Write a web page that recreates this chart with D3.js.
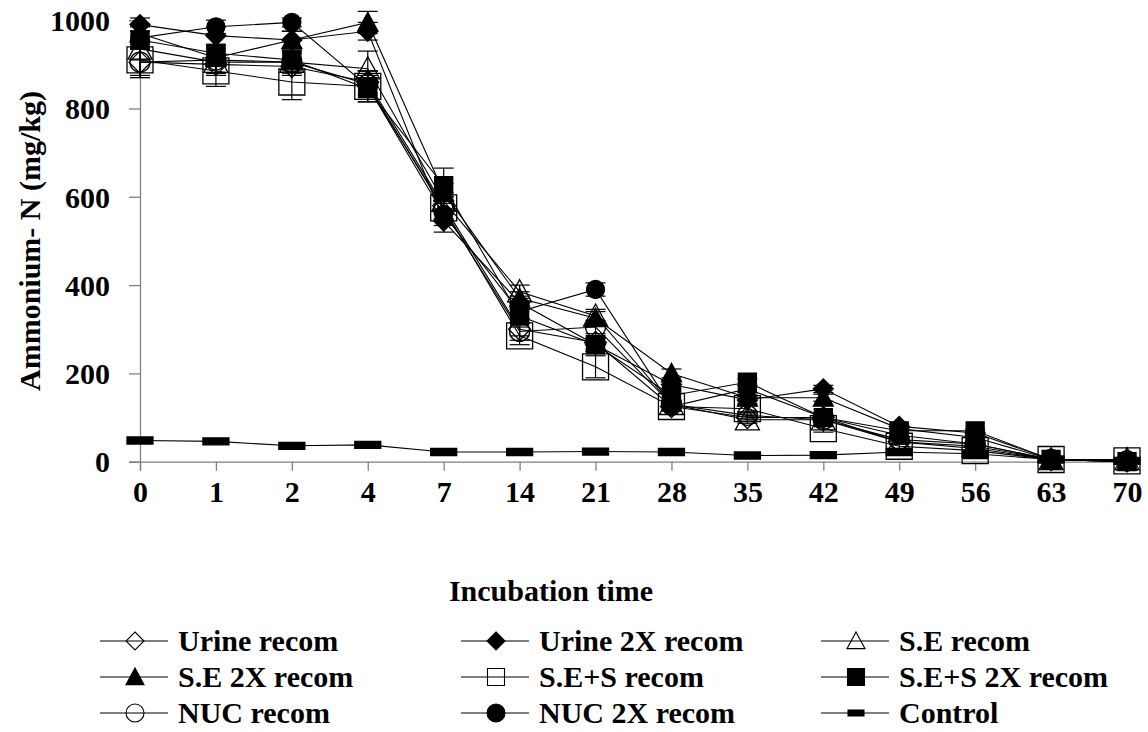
<!DOCTYPE html>
<html><head><meta charset="utf-8"><script src="https://cdn.jsdelivr.net/npm/d3@7"></script></head>
<body style="margin:0">
<svg id="chart" width="1148" height="732"></svg>
<script>
// Sampling days (categorical axis)
const days = ["0", "1", "2", "4", "7", "14", "21", "28", "35", "42", "49", "56", "63", "70"];
const yTicks = [0, 200, 400, 600, 800, 1000];

// Ammonium-N (mg/kg) per treatment
const urineRecom    = [905, 900, 895, 860, 580, 300, 270, 125, 100, 100, 45, 35, 5, 2];
const urine2xRecom  = [990, 965, 955, 975, 545, 360, 265, 175, 140, 165, 80, 65, 5, 0];
const seRecom       = [935, 905, 905, 890, 590, 385, 330, 130, 95, 95, 45, 30, 5, 5];
const se2xRecom     = [970, 915, 955, 995, 610, 370, 325, 200, 145, 145, 75, 55, 5, 0];
const sesRecom      = [910, 885, 860, 850, 575, 285, 215, 125, 120, 75, 35, 25, 5, 2];
const ses2xRecom    = [955, 925, 910, 845, 625, 330, 265, 150, 180, 100, 70, 70, 5, 0];
const nucRecom      = [905, 910, 905, 855, 570, 295, 305, 130, 105, 95, 50, 40, 5, 2];
const nuc2xRecom    = [960, 985, 995, 850, 560, 340, 390, 125, 165, 100, 60, 40, 5, 0];
const control       = [48, 46, 36, 38, 22, 22, 23, 22, 14, 15, 22, 18, 5, 2];

// Standard errors
const urineErr   = [30, 25, 20, 25, 20, 15, 15, 8, 8, 6, 5, 4, 2, 1];
const urine2xErr = [15, 20, 20, 20, 25, 15, 15, 10, 8, 8, 5, 4, 2, 1];
const seErr      = [25, 25, 20, 40, 20, 15, 15, 8, 8, 6, 5, 4, 2, 1];
const se2xErr    = [15, 20, 20, 25, 20, 15, 15, 10, 8, 8, 5, 4, 2, 1];
const sesErr     = [40, 35, 40, 35, 25, 20, 25, 10, 8, 8, 5, 4, 2, 1];
const ses2xErr   = [20, 20, 20, 30, 40, 15, 15, 10, 8, 8, 5, 4, 2, 1];
const nucErr     = [35, 30, 25, 30, 20, 20, 15, 8, 8, 6, 5, 4, 2, 1];
const nuc2xErr   = [15, 15, 10, 20, 25, 15, 15, 10, 8, 8, 5, 4, 2, 1];
const controlErr = [3, 3, 3, 3, 2, 2, 2, 2, 2, 2, 2, 2, 1, 1];

const seriesNames = ["Urine recom", "Urine 2X recom", "S.E recom", "S.E 2X recom",
  "S.E+S recom", "S.E+S 2X recom", "NUC recom", "NUC 2X recom", "Control"];

const series = [
  { name: seriesNames[0], values: urineRecom,   err: urineErr,   shape: "diamond",  filled: false, size: 22 },
  { name: seriesNames[1], values: urine2xRecom, err: urine2xErr, shape: "diamond",  filled: true,  size: 20 },
  { name: seriesNames[2], values: seRecom,      err: seErr,      shape: "triangle", filled: false, size: 24 },
  { name: seriesNames[3], values: se2xRecom,    err: se2xErr,    shape: "triangle", filled: true,  size: 20 },
  { name: seriesNames[4], values: sesRecom,     err: sesErr,     shape: "square",   filled: false, size: 26 },
  { name: seriesNames[5], values: ses2xRecom,   err: ses2xErr,   shape: "square",   filled: true,  size: 18 },
  { name: seriesNames[6], values: nucRecom,     err: nucErr,     shape: "circle",   filled: false, size: 20 },
  { name: seriesNames[7], values: nuc2xRecom,   err: nuc2xErr,   shape: "circle",   filled: true,  size: 18 },
  { name: seriesNames[8], values: control,      err: controlErr, shape: "dash",     filled: true,  size: 26 }
];

const faces = ["Times New Roman"];

// Common label styling, applied when each label is created
function label(sel) {
  return sel.style("font-family", `"${faces[0]}"`)
    .style("font-weight", "bold")
    .style("font-size", "30px");
}

const svg = d3.select("#chart");
const x = d3.scalePoint().domain(days).range([140, 1127]).padding(0);
const y = d3.scaleLinear().domain([0, 1000]).range([461.7, 20.2]);

const axisColor = "#808080";

// Marker path generator, centered at origin
function markerPath(shape, s) {
  const h = s / 2;
  switch (shape) {
    case "diamond": return `M0,${-h}L${h},0L0,${h}L${-h},0Z`;
    case "triangle": return `M0,${-h}L${h},${h * 0.85}L${-h},${h * 0.85}Z`;
    case "square": return `M${-h},${-h}H${h}V${h}H${-h}Z`;
    case "circle": return `M${h},0A${h},${h} 0 1,1 ${-h},0A${h},${h} 0 1,1 ${h},0Z`;
    case "dash": return `M${-h},-3.5H${h}V3.5H${-h}Z`;
  }
}

// Axis titles
svg.append("text").call(label).attr("transform", "translate(40,241) rotate(-90)")
  .attr("text-anchor", "middle").text("Ammonium- N (mg/kg)");
svg.append("text").call(label).attr("x", 551).attr("y", 601)
  .attr("text-anchor", "middle").text("Incubation time");

// Axes
const yAxis = svg.append("g").attr("transform", "translate(140,0)")
  .call(d3.axisLeft(y).tickValues(yTicks).tickSize(11).tickPadding(19).tickFormat(d3.format("d")));
const xAxis = svg.append("g").attr("transform", `translate(0,${y(0)})`)
  .call(d3.axisBottom(x).tickSize(9).tickPadding(10));
[yAxis, xAxis].forEach(g => {
  g.attr("font-family", null).attr("font-size", null);
  g.select(".domain").attr("stroke", axisColor).attr("stroke-width", 1.3);
  g.selectAll(".tick line").attr("stroke", axisColor).attr("stroke-width", 1.3);
  g.selectAll(".tick text").attr("fill", "#000").call(label);
});
yAxis.selectAll(".tick text").attr("dy", "0.34em");
xAxis.selectAll(".tick text").attr("dy", "0.72em");

const plot = svg.append("g");
const line = d3.line().x((d, i) => x(days[i])).y(d => y(d));

// Connecting lines
series.forEach(s => {
  plot.append("path").datum(s.values).attr("d", line)
    .attr("fill", "none").attr("stroke", "#000").attr("stroke-width", 1.1);
});

// Error bars and markers
series.forEach(s => {
  const g = plot.append("g");
  s.values.forEach((v, i) => {
    const cx = x(days[i]);
    const e = s.err[i];
    g.append("line").attr("x1", cx).attr("x2", cx).attr("y1", y(v + e)).attr("y2", y(Math.max(0, v - e)))
      .attr("stroke", "#000").attr("stroke-width", 1.2);
    [v + e, Math.max(0, v - e)].forEach(b => {
      g.append("line").attr("x1", cx - 10).attr("x2", cx + 10).attr("y1", y(b)).attr("y2", y(b))
        .attr("stroke", "#000").attr("stroke-width", 1.2);
    });
  });
  g.selectAll("path.mk").data(s.values).enter().append("path").attr("class", "mk")
    .attr("transform", (d, i) => `translate(${x(days[i])},${y(d)})`)
    .attr("d", markerPath(s.shape, s.size))
    .attr("fill", s.filled ? "#000" : "none")
    .attr("stroke", "#000").attr("stroke-width", 1.3);
});

// Legend, three columns
const legCols = [100, 461, 821];
const legRows = [641, 677, 713];
series.forEach((s, i) => {
  const lx = legCols[i % 3], ly = legRows[Math.floor(i / 3)];
  const g = svg.append("g").attr("transform", `translate(${lx},${ly})`);
  g.append("line").attr("x1", 0).attr("x2", 68).attr("y1", 0).attr("y2", 0)
    .attr("stroke", "#000").attr("stroke-width", 1.1);
  const ms = s.shape === "square" ? 17 : 18;
  g.append("path").attr("transform", "translate(35,0)")
    .attr("d", s.shape === "dash" ? "M-8,-3H8V3H-8Z" : markerPath(s.shape, ms))
    .attr("fill", s.filled ? "#000" : "none").attr("stroke", "#000").attr("stroke-width", 1.1);
  g.append("text").call(label).attr("x", 78).attr("y", 0).attr("dy", "0.34em").text(s.name);
});
</script></body></html>
